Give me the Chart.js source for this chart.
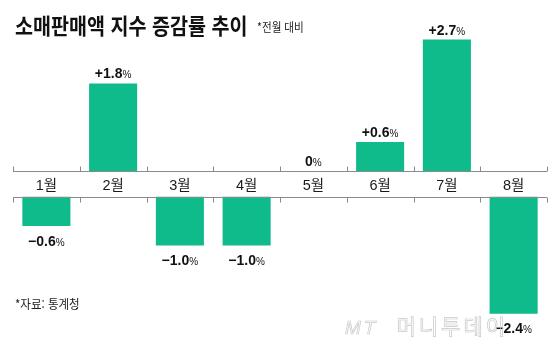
<!DOCTYPE html>
<html lang="ko">
<head>
<meta charset="utf-8">
<title>소매판매액 지수 증감률 추이</title>
<script src="https://cdn.jsdelivr.net/npm/chart.js@4/dist/chart.umd.min.js"></script>
<style>
    html, body { margin: 0; padding: 0; background: #fff; }
    #wrap { position: relative; width: 560px; height: 359px; overflow: hidden; }
    #chart { position: absolute; left: 0; top: 0; }
    .txt { position: absolute; white-space: nowrap; font-family: "Noto Sans CJK KR", sans-serif; transform-origin: 0 0; color: #111; }
    #title { left: 15px; top: 13px; font-size: 22px; line-height: 22px; font-weight: 700; transform: scaleX(0.89); }
    #sub { left: 257px; top: 20px; font-size: 12px; line-height: 14px; transform: scaleX(0.88); color: #222; }
    #source { left: 15px; top: 297px; font-size: 12.5px; line-height: 14px; transform: scaleX(0.92); color: #222; }
    #mark { left: 345px; top: 313px; font-size: 21px; line-height: 24px; color: transparent;
            -webkit-text-stroke: 0.7px #c8c8c8; letter-spacing: 3px; }
    #mark i { font-family: "Liberation Sans", sans-serif; font-size: 19px; margin-right: 18px; }
</style>
</head>
<body>
<div id="wrap">
    <canvas id="chart" width="560" height="359"></canvas>
    <div class="txt" id="title">소매판매액 지수 증감률 추이</div>
    <div class="txt" id="sub">*전월 대비</div>
    <div class="txt" id="source">*자료: 통계청</div>
    <div class="txt" id="mark"><i>MT</i>머니투데이</div>
</div>
<script>
    "use strict";

    // Data
    var months = ["1월", "2월", "3월", "4월", "5월", "6월", "7월", "8월"];
    var changes = [-0.6, 1.8, -1.0, -1.0, 0, 0.6, 2.7, -2.4];
    var yMin = -3.0;
    var yMax = 3.0;

    // gap between the two axis lines (month labels sit there), in % units
    var GAP = 0.524;

    var barColor = "#0fba8b";

    function fmt(v) {
        if (v > 0) return "+" + v.toFixed(1);
        if (v < 0) return "\u2212" + Math.abs(v).toFixed(1);
        return "0";
    }

    // positive bars hang on the upper line, negative ones on the lower line
    var barData = changes.map(function (v) {
        return v >= 0 ? [0, v] : [-GAP, v - GAP];
    });

    // Split axis: two lines with the month names between them, plus value labels
    var splitAxis = {
        id: "splitAxis",
        afterDatasetsDraw: function (chart) {
            var ctx = chart.ctx;
            var a = chart.chartArea;
            var x = chart.scales.x;
            var y = chart.scales.y;
            var top = Math.round(y.getPixelForValue(0)) + 0.5;
            var bot = Math.round(y.getPixelForValue(-GAP)) + 0.5;
            var step = (a.right - a.left) / months.length;

            ctx.save();
            ctx.strokeStyle = "#8a8a8a";
            ctx.lineWidth = 1;
            ctx.beginPath();
            ctx.moveTo(a.left, top); ctx.lineTo(a.right, top);
            ctx.moveTo(a.left, bot); ctx.lineTo(a.right, bot);
            for (var i = 0; i <= months.length; i++) {
                var px = Math.round(x.getPixelForValue(0) - step / 2 + i * step) + 0.5;
                ctx.moveTo(px, top - 5); ctx.lineTo(px, top);
                ctx.moveTo(px, bot); ctx.lineTo(px, bot + 5);
            }
            ctx.stroke();

            // month labels
            ctx.fillStyle = "#1a1a1a";
            ctx.font = "14.5px 'Liberation Sans', 'Noto Sans CJK KR', sans-serif";
            ctx.textAlign = "center";
            ctx.textBaseline = "middle";
            months.forEach(function (m, i) {
                ctx.fillText(m, x.getPixelForValue(i), (top + bot) / 2 + 1);
            });

            // value labels
            var meta = chart.getDatasetMeta(0);
            ctx.textBaseline = "alphabetic";
            ctx.textAlign = "left";
            meta.data.forEach(function (bar, i) {
                var v = changes[i];
                var num = fmt(v);
                var ty = v >= 0 ? bar.y - 5 : bar.y + 19.5;
                ctx.font = "bold 14px 'Liberation Sans', sans-serif";
                var w1 = ctx.measureText(num).width;
                ctx.font = "10px 'Liberation Sans', sans-serif";
                var w2 = ctx.measureText("%").width;
                var sx = bar.x - (w1 + w2) / 2;
                ctx.fillStyle = "#111";
                ctx.font = "bold 14px 'Liberation Sans', sans-serif";
                ctx.fillText(num, sx, ty);
                ctx.font = "10px 'Liberation Sans', sans-serif";
                ctx.fillText("%", sx + w1, ty);
            });
            ctx.restore();
        }
    };

    var ctx1 = document.getElementById("chart").getContext("2d");
    var myChart = new Chart(ctx1, {
        type: "bar",
        data: {
            labels: months,
            datasets: [{
                data: barData,
                backgroundColor: barColor,
                borderWidth: 0,
                categoryPercentage: 1,
                barPercentage: 0.72
            }]
        },
        options: {
            responsive: false,
            animation: false,
            devicePixelRatio: 1,
            layout: { padding: { left: 13, right: 13, top: 25, bottom: 16 } },
            plugins: {
                legend: { display: false },
                tooltip: { enabled: false }
            },
            scales: {
                x: { display: false },
                y: { display: false, min: yMin - GAP, max: yMax }
            }
        },
        plugins: [splitAxis]
    });
</script>
</body>
</html>
